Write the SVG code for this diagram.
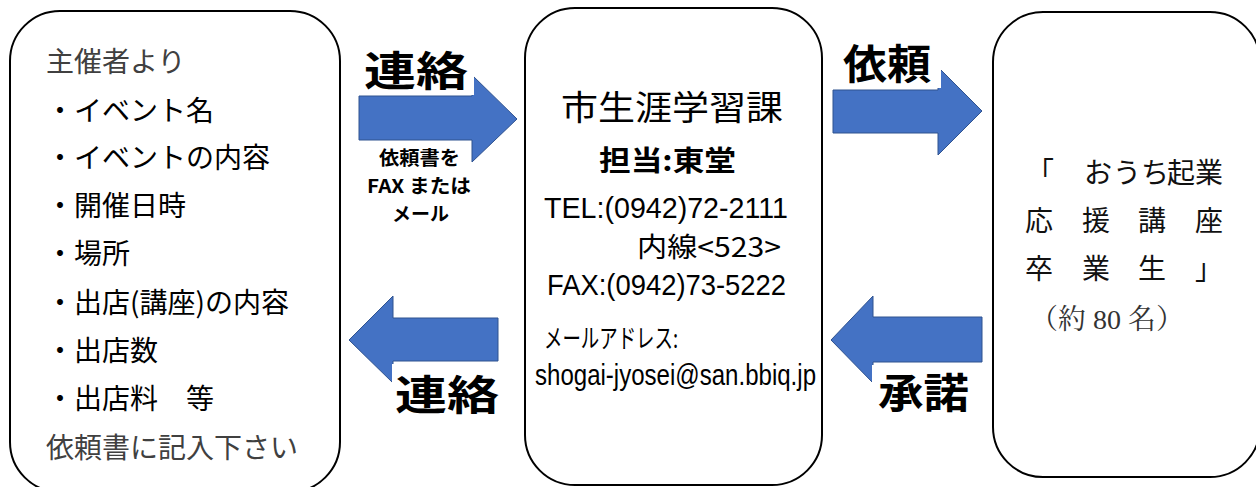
<svg xmlns="http://www.w3.org/2000/svg" width="1256" height="487" viewBox="0 0 1256 487">
<style>
.box{fill:#fff;stroke:#000;stroke-width:2}
.arr{fill:#4472C4;stroke:#2F528F;stroke-width:1}
.jp{font-family:"Noto Sans CJK JP","Noto Sans",sans-serif}
.lat{font-family:"Liberation Sans","Noto Sans CJK JP",sans-serif}
.lt{font-size:28px;fill:#000}
.gr{fill:#404040}
.lbl{font-size:41px;font-weight:700;fill:#000}
.sm{font-size:19px;font-weight:700;fill:#000}
.mid{fill:#000}
.rt{font-size:28px;fill:#111}
.bg{fill:#fff}
</style>
<rect width="1256" height="487" fill="#fff"/>
<g id="node-left">
<rect class="box" x="10" y="11" width="330" height="481" rx="50" ry="50"/>
<g class="jp lt">
<text class="gr" x="46" y="72">主催者より</text>
<text x="46" y="121">・イベント名</text>
<text x="46" y="168">・イベントの内容</text>
<text x="46" y="216">・開催日時</text>
<text x="46" y="264">・場所</text>
<text x="46" y="313">・出店(講座)の内容</text>
<text x="46" y="361">・出店数</text>
<text x="46" y="409">・出店料　等</text>
<text class="gr" x="46" y="458">依頼書に記入下さい</text>
</g>
</g>
<g id="node-center">
<rect class="box" x="525" y="8" width="297" height="477" rx="50" ry="50"/>
<g class="mid">
<text class="jp" x="561" y="120" font-size="34" textLength="222" lengthAdjust="spacingAndGlyphs">市生涯学習課</text>
<text class="jp" x="599" y="171" font-size="28" font-weight="700" textLength="137" lengthAdjust="spacingAndGlyphs">担当:東堂</text>
<text class="lat" x="544" y="218" font-size="30" textLength="244" lengthAdjust="spacingAndGlyphs">TEL:(0942)72-2111</text>
<text class="jp" x="637" y="257" font-size="27" textLength="144" lengthAdjust="spacingAndGlyphs">内線&lt;523&gt;</text>
<text class="lat" x="547" y="295" font-size="30" textLength="239" lengthAdjust="spacingAndGlyphs">FAX:(0942)73-5222</text>
<text class="jp" x="544" y="348" font-size="26" textLength="134" lengthAdjust="spacingAndGlyphs">メールアドレス:</text>
<text class="lat" x="535" y="385" font-size="29" textLength="281" lengthAdjust="spacingAndGlyphs">shogai-jyosei@san.bbiq.jp</text>
</g>
</g>
<g id="node-right">
<rect class="box" x="993" y="12" width="267" height="465" rx="50" ry="50"/>
<g class="jp rt" text-anchor="middle">
<text x="1040 1098 1127 1155 1181 1209" y="183">「おうち起業</text>
<text x="1039 1096 1152 1209" y="231">応援講座</text>
<text x="1039 1096 1152 1209" y="279">卒業生」</text>
</g>
<text x="1030" y="329" font-size="28" fill="#333" font-family="'Liberation Serif','Noto Serif CJK JP','Noto Sans CJK JP',serif">（約 80 名）</text>
</g>
<g id="connectors">
<path class="arr" d="M359,96 H472 V75 L517,119 L472,162 V140 H359 Z"/>
<path class="arr" d="M349,340 L393,296 V318 H498 V361 H393 V383 Z"/>
<path class="arr" d="M833,90 H938 V67 L982,111 L938,155 V133 H833 Z"/>
<path class="arr" d="M831,340 L873,296 V317 H982 V362 H873 V383 Z"/>
<rect class="bg" x="360" y="46" width="114" height="49"/>
<rect class="bg" x="392" y="364" width="108" height="54"/>
<rect class="bg" x="840" y="38" width="101" height="50"/>
<rect class="bg" x="872" y="365" width="103" height="50"/>
<g class="jp lbl">
<text x="364" y="86" textLength="104" lengthAdjust="spacingAndGlyphs">連絡</text>
<text x="395" y="410" textLength="104" lengthAdjust="spacingAndGlyphs">連絡</text>
<text x="843" y="79" textLength="88" lengthAdjust="spacingAndGlyphs">依頼</text>
<text x="878" y="408" textLength="91" lengthAdjust="spacingAndGlyphs">承諾</text>
</g>
<g class="jp sm">
<text x="379" y="165" textLength="81" lengthAdjust="spacingAndGlyphs">依頼書を</text>
<text x="367" y="193" textLength="104" lengthAdjust="spacingAndGlyphs">FAX または</text>
<text x="392" y="221" textLength="57" lengthAdjust="spacingAndGlyphs">メール</text>
</g>
</g>
</svg>
